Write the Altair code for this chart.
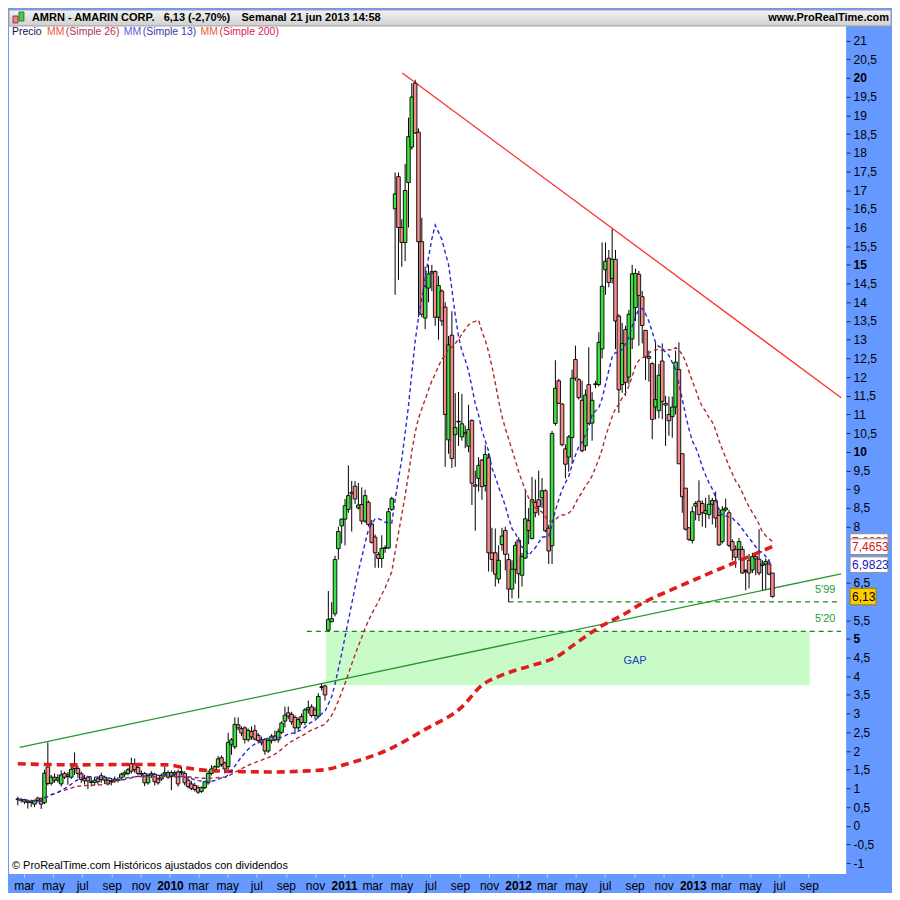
import altair as alt
import pandas as pd
from datetime import datetime, timedelta

# ---------------- data (weekly candles, AMRN, Feb 2009 - Jun 2013) ----------------
open_ = [0.72,0.70,0.64,0.66,0.62,0.58,0.74,0.72,0.62,1.57,1.14,1.30,1.22,1.12,1.40,1.32,1.30,1.64,1.53,1.39,
         1.26,1.30,1.18,1.16,1.26,1.34,1.22,1.22,1.18,1.20,1.24,1.28,1.38,1.40,1.66,1.66,1.56,1.40,1.40,1.15,
         1.35,1.38,1.25,1.25,1.38,1.30,1.42,1.38,1.44,1.42,1.40,1.22,1.12,1.08,1.02,0.92,1.02,1.15,1.40,1.50,
         1.58,1.82,1.68,1.58,2.18,2.11,2.70,2.60,2.62,2.30,2.52,2.55,2.42,2.30,2.31,2.00,2.28,2.40,2.30,2.50,
         2.80,3.02,2.98,2.90,2.62,2.92,2.76,3.10,3.18,3.10,2.93,3.70,3.74,5.23,5.46,5.67,7.41,8.02,8.20,8.46,
         8.92,9.08,8.50,8.59,8.15,8.65,8.07,7.72,7.26,7.15,7.42,7.43,8.46,16.50,17.36,16.00,15.60,17.20,18.15,19.86,
         18.55,15.62,13.58,14.38,14.78,14.82,13.60,14.30,13.87,10.32,13.12,10.46,10.80,10.40,10.52,10.15,10.84,9.12,9.29,9.78,
         9.10,9.84,7.30,7.30,6.60,7.52,7.90,7.12,6.33,6.86,7.64,6.70,7.16,8.16,7.68,8.65,8.72,8.77,8.96,7.96,
         7.49,10.76,11.90,11.28,10.08,9.86,10.38,12.47,11.93,11.38,10.16,11.80,10.77,11.80,11.80,12.75,14.87,15.18,14.64,15.15,
         13.63,11.80,13.27,12.00,13.02,13.86,14.75,14.15,13.25,12.55,12.36,11.20,11.10,12.43,11.30,11.00,10.94,11.20,12.20,9.95,
         9.03,7.97,7.63,8.55,8.68,8.62,8.35,8.32,8.60,8.69,8.30,7.60,8.45,8.37,7.60,7.39,7.39,7.39,6.83,7.10,
         6.84,7.20,7.13,6.96,7.00,7.00,6.76]
high_ = [0.78,0.75,0.72,0.70,0.70,0.70,0.78,0.76,1.50,2.23,1.36,1.40,1.38,1.48,1.45,1.44,1.66,1.96,1.60,1.45,
         1.36,1.34,1.30,1.30,1.32,1.42,1.34,1.30,1.26,1.32,1.30,1.42,1.48,1.55,1.82,1.80,1.62,1.48,1.44,1.40,
         1.46,1.42,1.30,1.40,1.58,1.48,1.48,1.48,1.50,1.58,1.46,1.30,1.20,1.15,1.08,1.05,1.20,1.48,1.62,1.62,
         1.87,1.88,1.72,2.49,2.35,2.90,2.90,2.66,2.66,2.60,2.66,2.70,2.48,2.38,2.35,2.35,2.45,2.55,2.60,2.80,
         3.19,3.19,3.05,2.95,2.90,3.00,3.15,3.35,3.25,3.18,3.55,3.80,3.78,6.28,5.98,7.22,8.00,8.22,8.74,9.64,
         9.22,9.22,9.17,9.05,8.99,8.70,8.18,7.79,7.32,7.77,7.50,8.50,8.80,17.47,17.47,16.22,17.70,18.94,19.86,19.95,
         18.65,16.26,14.95,15.00,15.00,14.86,14.70,14.35,14.00,13.10,13.76,11.57,11.60,11.55,10.70,11.26,10.87,9.50,9.86,9.81,
         10.18,9.97,7.97,7.95,7.50,7.97,8.00,7.28,7.10,7.60,7.72,7.30,8.98,8.50,9.33,9.26,9.50,9.30,9.00,8.05,
         10.56,12.45,11.95,11.30,10.20,10.45,12.20,12.84,11.97,11.90,11.67,12.80,11.60,11.90,13.20,15.60,15.60,15.40,15.96,15.40,
         13.68,13.45,13.37,13.80,15.00,14.90,14.84,14.30,13.25,12.71,12.40,12.93,12.35,12.90,11.50,11.48,11.48,12.71,12.93,9.95,
         9.03,7.99,8.54,8.68,9.24,8.70,8.77,8.85,8.77,8.94,8.50,8.55,8.75,8.45,7.66,7.50,7.70,7.48,6.87,7.27,
         7.30,7.25,7.93,7.10,7.15,7.13,6.76]
low_ = [0.55,0.62,0.58,0.46,0.50,0.50,0.62,0.45,0.58,1.08,1.08,1.15,1.15,1.05,1.25,1.10,1.25,1.36,1.28,1.15,
        1.10,0.98,1.05,1.08,1.10,1.15,1.12,1.08,1.08,1.15,1.16,1.24,1.30,1.35,1.40,1.42,1.35,1.32,1.06,1.10,
        1.28,1.08,1.10,1.20,1.30,1.25,0.95,1.30,1.05,1.35,1.08,1.00,0.95,0.92,0.85,0.88,0.98,1.10,1.35,1.45,
        1.55,1.58,1.40,1.50,1.90,2.05,2.55,2.40,2.20,2.25,2.30,2.28,2.20,2.15,1.90,1.95,2.20,2.25,2.22,2.45,
        2.63,2.85,2.70,2.45,2.55,2.70,2.70,3.00,2.90,2.85,2.88,3.62,3.35,5.20,5.44,5.60,7.12,7.55,7.50,8.37,
        7.87,8.61,8.46,8.06,8.10,8.00,7.55,6.90,6.90,6.90,7.30,7.40,8.42,14.20,14.60,14.95,15.10,16.00,18.08,18.50,
        13.60,13.60,13.28,14.00,14.30,13.37,13.00,13.37,9.60,9.95,9.57,9.60,10.16,10.30,10.10,9.99,8.58,7.89,8.94,8.72,
        8.94,6.80,6.79,6.40,6.48,7.36,6.83,5.98,6.08,6.48,6.08,6.40,7.14,7.53,7.66,8.25,8.30,8.50,7.85,7.00,
        7.00,10.70,11.28,10.15,9.29,9.47,9.68,11.90,11.40,9.99,10.03,10.74,10.30,11.70,11.75,12.50,14.20,14.40,14.50,12.75,
        11.04,11.58,11.50,11.80,12.75,13.50,12.84,12.90,11.92,11.88,10.34,10.87,10.90,10.87,10.16,10.43,10.38,11.00,9.68,8.37,
        7.90,7.62,7.55,8.17,8.15,8.00,7.97,8.20,8.06,7.97,7.49,7.55,8.40,7.45,7.10,6.90,7.10,6.74,6.30,6.35,
        6.76,6.70,6.70,6.30,6.32,6.70,6.10]
close_ = [0.70,0.68,0.70,0.62,0.66,0.68,0.68,0.58,1.41,1.13,1.30,1.22,1.28,1.36,1.30,1.36,1.51,1.53,1.40,1.24,
          1.20,1.20,1.16,1.22,1.18,1.24,1.30,1.12,1.20,1.25,1.22,1.38,1.42,1.50,1.46,1.50,1.40,1.38,1.15,1.35,
          1.40,1.18,1.15,1.35,1.42,1.42,1.32,1.42,1.12,1.45,1.15,1.05,1.00,0.97,0.90,1.02,1.18,1.40,1.52,1.58,
          1.79,1.64,1.52,2.23,2.30,2.71,2.62,2.48,2.31,2.55,2.38,2.32,2.28,2.22,2.00,2.28,2.40,2.30,2.52,2.75,
          2.96,2.93,2.78,2.62,2.84,2.76,3.10,3.16,2.95,2.95,3.46,3.72,3.50,5.52,5.54,7.12,7.87,8.20,8.56,8.83,
          8.88,8.74,8.58,8.15,8.83,8.06,7.58,7.30,7.15,7.42,7.44,8.40,8.75,16.90,16.00,15.60,16.99,18.43,19.49,18.53,
          15.62,13.68,14.42,14.76,14.82,13.60,14.45,13.50,11.00,12.86,9.82,10.65,10.82,10.75,10.48,10.60,9.16,9.08,9.64,9.07,
          9.93,7.30,7.12,6.73,7.10,7.75,7.26,6.33,6.86,7.50,6.74,7.20,8.21,7.90,8.72,8.37,8.54,8.96,7.89,7.35,
          10.49,11.70,11.30,10.19,9.67,10.40,11.97,11.97,11.45,10.03,11.52,10.76,11.38,11.82,12.93,14.43,15.10,14.53,15.15,13.50,
          11.66,12.90,11.86,13.68,14.76,14.77,14.18,13.38,12.54,12.50,10.87,11.40,12.05,11.35,11.25,10.83,11.20,12.40,9.68,8.80,
          7.93,7.66,8.40,8.62,8.32,8.37,8.43,8.60,8.70,8.23,7.51,8.45,8.50,7.50,7.37,7.18,7.60,6.76,6.80,6.76,
          7.20,7.14,6.76,7.00,7.07,6.73,6.13]

# 200-week simple moving average at a few weeks
ma200_week = [0, 8, 18, 34, 45, 49, 57, 67, 77, 87, 92, 98, 110, 122, 133, 139, 145, 154, 161, 167, 174, 181, 188, 196, 206, 215, 226]
ma200_val = [1.66, 1.64, 1.63, 1.64, 1.63, 1.57, 1.48, 1.45, 1.44, 1.47, 1.50, 1.64, 2.00, 2.58, 3.18, 3.76, 4.03, 4.29, 4.50, 4.87, 5.30, 5.63, 6.00, 6.32, 6.71, 7.05, 7.47]

# trend lines (start date, start price, end date, end price)
red_line = [("2011-05-03", 20.13), ("2013-11-08", 11.45)]
green_line = [("2009-02-20", 2.10), ("2013-11-08", 6.74)]
# horizontal supports
support_start = ["2010-10-15", "2011-12-12"]
support_level = [5.20, 5.99]
support_text = ["5'20", "5'99"]
gap_box = {"start": "2010-11-24", "end": "2013-09-03", "low": 3.76, "high": 5.20}

# right-axis value boxes (drawn top to bottom, later ones cover earlier ones)
box_values = [7.60, 7.4653, 6.9823]
box_texts = ["7,6898", "7,4653", "6,9823"]
box_colors = ["#d02020", "#d02020", "#2020c0"]
last_price = 6.13

y_ticks = [v / 2 for v in range(-2, 43) if v / 2 not in (6.0, 7.0, 7.5)]
x_ticks = [(y, m) for y in range(2009, 2014) for m in (1, 3, 5, 7, 9, 11)
           if (y, m) >= (2009, 3) and (y, m) <= (2013, 9)]

# ---------------- tables ----------------
first_week = datetime(2009, 2, 16)
def wk(i):
    return (first_week + timedelta(weeks=i)).strftime("%Y-%m-%dT00:00:00")

df = pd.DataFrame({"date": [wk(i) for i in range(len(close_))],
                   "o": open_, "h": high_, "l": low_, "c": close_})
ma200 = pd.DataFrame({"date": [wk(i) for i in ma200_week], "v": ma200_val})
lines = pd.DataFrame(
    [{"line": "r", "date": d + "T00:00:00", "v": v} for d, v in red_line]
    + [{"line": "g", "date": d + "T00:00:00", "v": v} for d, v in green_line])
sup = pd.DataFrame({"date": [d + "T00:00:00" for d in support_start],
                    "end": ["2013-11-08T00:00:00"] * 2, "v": support_level, "t": support_text})
gap = pd.DataFrame([{"s": gap_box["start"] + "T00:00:00", "e": gap_box["end"] + "T00:00:00",
                     "lo": gap_box["low"], "hi": gap_box["high"]}])
last = pd.DataFrame({"v": [last_price], "t": [str(last_price).replace(".", ",")]})
one = pd.DataFrame({"a": [0]})

# ---------------- scales / axes ----------------
W, H = 839, 850
FONT = "Liberation Sans"
xscale = alt.Scale(domain=[alt.DateTime(year=2009, month=2, date=8),
                           alt.DateTime(year=2013, month=11, date=8)])
yscale = alt.Scale(domain=[-1.29, 21.39], nice=False, zero=False)

month_expr = ("month(datum.value)==0 ? timeFormat(datum.value,'%Y') : "
              "['ene','feb','mar','abr','may','jun','jul','ago','sep','oct','nov','dic'][month(datum.value)]")
xaxis = alt.Axis(values=[alt.DateTime(year=y, month=m, date=1) for y, m in x_ticks],
                 labelExpr=month_expr, title=None, domain=False, grid=False,
                 tickSize=3, tickColor="#c8d8ff", labelPadding=3, labelColor="black",
                 labelFont=FONT, labelFontSize=12, zindex=1,
                 labelFontWeight={"condition": {"test": "month(datum.value)==0", "value": "bold"}, "value": "normal"})
yaxis = alt.Axis(orient="right", values=y_ticks, title=None, domain=False, grid=False,
                 labelExpr="replace(toString(datum.value), '.', ',')",
                 tickSize=4, tickColor="#203060", labelPadding=3, labelColor="black",
                 labelFont=FONT, labelFontSize=12, zindex=1,
                 labelFontWeight={"condition": {"test": "datum.value % 5 == 0 && datum.value != 0", "value": "bold"}, "value": "normal"})

def X(f):
    return alt.X(f, type="temporal", scale=xscale, axis=xaxis, title=None)
def Y(f):
    return alt.Y(f, type="quantitative", scale=yscale, axis=yaxis, title=None)

# ---------------- layers ----------------
band = alt.Chart(one).mark_rect(color="#6699ff").encode(
    x=alt.value(0), x2=alt.value(884), y=alt.value(-16), y2=alt.value(868))
plotbg = alt.Chart(one).mark_rect(color="white").encode(
    x=alt.value(0), x2=alt.value(W), y=alt.value(0), y2=alt.value(H))

gap_l = alt.Chart(gap).mark_rect(color="#c8fbc8").encode(
    x=X("s"), x2="e", y=Y("lo"), y2="hi")
gap_t = alt.Chart(pd.DataFrame({"date": ["2012-09-02T00:00:00"], "v": [4.42], "t": ["GAP"]})).mark_text(
    font=FONT, fontSize=11, color="#1a3fbf").encode(x=X("date"), y=Y("v"), text="t")

sup_l = alt.Chart(sup).mark_rule(color="#1a8a1a", strokeDash=[5, 4], strokeWidth=1.3).encode(
    x=X("date"), x2="end", y=Y("v"))
sup_t = alt.Chart(sup).mark_text(font=FONT, fontSize=11, color="#2a9a3a", dy=-12).encode(
    x=alt.value(818), y=Y("v"), text="t")

tl_r = alt.Chart(lines[lines.line == "r"]).mark_line(color="#ff3030", strokeWidth=1.3).encode(
    x=X("date"), y=Y("v"))
tl_g = alt.Chart(lines[lines.line == "g"]).mark_line(color="#2a962a", strokeWidth=1.3).encode(
    x=X("date"), y=Y("v"))

wick = alt.Chart(df).mark_rule(color="black", strokeWidth=1).encode(
    x=X("date"), y=Y("l"), y2="h")
body = alt.Chart(df).mark_bar(size=3.6, stroke="black", strokeWidth=0.9).encode(
    x=X("date"), y=Y("o"), y2="c",
    color=alt.condition("datum.c >= datum.o", alt.value("#3fe03f"), alt.value("#f48a8a")))

ma13 = alt.Chart(df).transform_window(
    m="mean(c)", frame=[-12, 0], sort=[alt.SortField("date")]).mark_line(
    color="#2a2ad0", strokeWidth=1.4, strokeDash=[4, 3]).encode(x=X("date"), y=Y("m"))
ma26 = alt.Chart(df).transform_window(
    m="mean(c)", frame=[-25, 0], sort=[alt.SortField("date")]).mark_line(
    color="#b02a2a", strokeWidth=1.4, strokeDash=[4, 3]).encode(x=X("date"), y=Y("m"))
ma200_l = alt.Chart(ma200).mark_line(color="#e01c1c", strokeWidth=3.6, strokeDash=[8, 5],
                                     interpolate="monotone").encode(x=X("date"), y=Y("v"))

# right-axis value boxes: one rect + text pair per value, so later boxes cover earlier ones
box_layers = []
for v, t, col in zip(box_values, box_texts, box_colors):
    bd = pd.DataFrame({"v": [v], "lo": [v - 0.21], "hi": [v + 0.21], "t": [t]})
    box_layers.append(alt.Chart(bd).mark_rect(fill="white", stroke="#909090", strokeWidth=1).encode(
        x=alt.value(843), x2=alt.value(881), y=Y("lo"), y2="hi"))
    box_layers.append(alt.Chart(bd).mark_text(font=FONT, fontSize=12, align="left", color=col).encode(
        x=alt.value(845), y=Y("v"), text="t"))
last_c = last.assign(lo=last.v - 0.22, hi=last.v + 0.22)
last_r = alt.Chart(last_c).mark_rect(fill="#ffcc00", stroke="#a08000", strokeWidth=1).encode(
    x=alt.value(843), x2=alt.value(869), y=Y("lo"), y2="hi")
last_t = alt.Chart(last_c).mark_text(font=FONT, fontSize=12, align="left", color="black").encode(
    x=alt.value(845), y=Y("v"), text="t")

# header band
grad = alt.LinearGradient(gradient="linear", x1=0, x2=0, y1=0, y2=1,
                          stops=[alt.GradientStop(color="#f4f4f4", offset=0),
                                 alt.GradientStop(color="#cfcfcf", offset=1)])
head = alt.Chart(one).mark_rect(color=grad, stroke="#a0a0a0", strokeWidth=1).encode(
    x=alt.value(0), x2=alt.value(884), y=alt.value(-16), y2=alt.value(0))
icon_r = alt.Chart(one).mark_rect(fill="#f08080", stroke="#802020", strokeWidth=0.8).encode(
    x=alt.value(4), x2=alt.value(9), y=alt.value(-10), y2=alt.value(-3))
icon_g = alt.Chart(one).mark_rect(fill="#40d040", stroke="#206020", strokeWidth=0.8).encode(
    x=alt.value(10), x2=alt.value(15), y=alt.value(-14), y2=alt.value(-5))

def txt(s, x, y, color="black", size=12, weight="normal", align="left"):
    return alt.Chart(one).mark_text(text=s, font=FONT, fontSize=size, fontWeight=weight,
                                    color=color, align=align, baseline="middle").encode(
        x=alt.value(x), y=alt.value(y))

head_t = [txt("AMRN - AMARIN CORP.", 23, -7.5, size=11, weight="bold"),
          txt("6,13 (-2,70%)", 155, -7.5, size=11, weight="bold"),
          txt("Semanal", 233, -7.5, size=11, weight="bold"),
          txt("21 jun 2013 14:58", 282, -7.5, size=11, weight="bold"),
          txt("www.ProRealTime.com", 882, -7.5, size=11, weight="bold", align="right")]
legend_t = [txt("Precio", 3, 6, color="#141450", size=10.5),
            txt("MM", 38, 6, color="#f05a3a", size=10.5),
            txt("(Simple 26)", 57, 6, color="#b83050", size=10.5),
            txt("MM", 115, 6, color="#5a5ae0", size=10.5),
            txt("(Simple 13)", 134, 6, color="#3a3ab0", size=10.5),
            txt("MM", 192, 6, color="#f05a3a", size=10.5),
            txt("(Simple 200)", 211, 6, color="#e02050", size=10.5)]
foot_t = txt("\u00a9 ProRealTime.com  Hist\u00f3ricos ajustados con dividendos", 3, 842, size=11)

chart = alt.layer(
    band, plotbg, gap_l, gap_t, sup_l, sup_t, tl_r, tl_g, wick, body,
    ma200_l, ma26, ma13, *box_layers, last_r, last_t,
    head, icon_r, icon_g, *head_t, *legend_t, foot_t
).properties(width=W, height=H, padding=0).configure(background="#6699ff").configure_view(
    fill=None, stroke="#8a8a8a", strokeWidth=1)

chart.save("out.html", embed_options={"renderer": "svg", "actions": False})
